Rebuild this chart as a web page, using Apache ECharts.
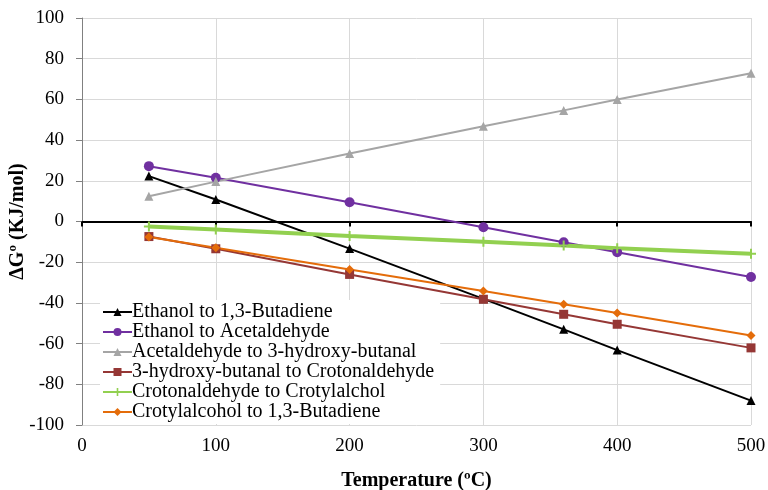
<!DOCTYPE html>
<html><head><meta charset="utf-8">
<script src="https://cdn.jsdelivr.net/npm/echarts@6/dist/echarts.min.js"></script>
<style>html,body{margin:0;padding:0;background:#fff}#c{width:768px;height:490px}</style>
</head><body><div id="c"></div>
<script>
const temps = [50, 100, 200, 300, 360, 400, 500];
const ethanolButadiene = [22.3, 10.8, -13.3, -38, -53, -63.2, -88];
const ethanolAcetaldehyde = [27.2, 21.5, 9.5, -2.8, -10.2, -15.1, -27.3];
const acetaldehydeHydroxy = [12.4, 19.6, 33.4, 46.8, 54.6, 59.9, 72.9];
const hydroxyCrotonaldehyde = [-7.4, -13.4, -26, -38.2, -45.6, -50.5, -62.1];
const crotonaldehydeCrotyl = [-2.5, -3.9, -7.1, -10, -11.8, -13.2, -15.9];
const crotylButadiene = [-7.6, -12.9, -23.6, -34.1, -40.7, -45, -56];
const seriesNames = ['Ethanol to 1,3-Butadiene','Ethanol to Acetaldehyde','Acetaldehyde to 3-hydroxy-butanal','3-hydroxy-butanal to Crotonaldehyde','Crotonaldehyde to Crotylalchol','Crotylalcohol to 1,3-Butadiene'];
const xTicks = [0, 100, 200, 300, 400, 500];
const yTicks = [-100, -80, -60, -40, -20, 0, 20, 40, 60, 80, 100];

const font = 'Liberation Serif, Times New Roman, serif';
const plus = 'path://M4,0 L6,0 L6,4 L10,4 L10,6 L6,6 L6,10 L4,10 L4,6 L0,6 L0,4 L4,4 Z';
function pts(arr){ return temps.map((t,i)=>[t, arr[i]]); }
const specs = [
  {d: ethanolButadiene, c:'#000000', s:'triangle', z:9, w:2},
  {d: ethanolAcetaldehyde, c:'#7030A0', s:'circle', z:10, w:2},
  {d: acetaldehydeHydroxy, c:'#A5A5A5', s:'triangle', z:9, w:2},
  {d: hydroxyCrotonaldehyde, c:'#953735', s:'rect', z:9, w:2},
  {d: crotonaldehydeCrotyl, c:'#92D050', s:plus, z:10, w:4},
  {d: crotylButadiene, c:'#E46C0A', s:'diamond', z:9, w:2}
];
const chart = echarts.init(document.getElementById('c'));
chart.setOption({
  animation: false,
  backgroundColor: '#fff',
  grid: {left: 82, right: 17, top: 18, bottom: 65, containLabel: false, outerBoundsMode: 'none'},
  legend: {
    orient: 'vertical', left: 100, top: 300,
    backgroundColor: '#fff', padding: [2, 6, 2, 2],
    itemWidth: 29, itemHeight: 10, itemGap: 0,
    textStyle: {fontFamily: font, fontSize: 20, color: '#000', lineHeight: 20, padding: [0,0,0,-5]},
    data: seriesNames
  },
  xAxis: [{
    type: 'value', min: 0, max: 500, interval: 100,
    name: 'Temperature (ºC)', nameLocation: 'middle', nameGap: 46, nameMoveOverlap: false,
    nameTextStyle: {fontFamily: font, fontSize: 20, fontWeight: 'bold', color: '#000'},
    axisLine: {show: false}, axisTick: {show: false},
    axisLabel: {fontFamily: font, fontSize: 19, color: '#000', margin: 12},
    splitLine: {show: true, lineStyle: {color: '#D9D9D9', width: 1}}
  }, {
    type: 'value', min: 0, max: 500, interval: 100, position: 'bottom',
    axisLine: {show: true, onZero: true, onZeroAxisIndex: 0, lineStyle: {color: '#000', width: 2}},
    axisTick: {show: true, length: 5, lineStyle: {color: '#000', width: 2}},
    axisLabel: {show: false}, splitLine: {show: false}
  }],
  yAxis: {
    type: 'value', min: -100, max: 100, interval: 20,
    name: 'ΔGº (KJ/mol)', nameLocation: 'middle', nameGap: 54, nameRotate: 90, nameMoveOverlap: false,
    nameTextStyle: {fontFamily: font, fontSize: 20, fontWeight: 'bold', color: '#000'},
    axisLine: {show: true, lineStyle: {color: '#808080', width: 1}},
    axisTick: {show: true, length: 6, lineStyle: {color: '#808080'}},
    axisLabel: {fontFamily: font, fontSize: 19, color: '#000', margin: 18},
    splitLine: {show: true, lineStyle: {color: '#D9D9D9', width: 1}}
  },
  series: specs.map((sp, i) => ({
    name: seriesNames[i], type: 'line', data: pts(sp.d),
    symbol: sp.s, symbolSize: sp.z, showAllSymbol: true,
    lineStyle: {color: sp.c, width: sp.w},
    itemStyle: {color: sp.c},
    z: 3
  }))
});
</script></body></html>
